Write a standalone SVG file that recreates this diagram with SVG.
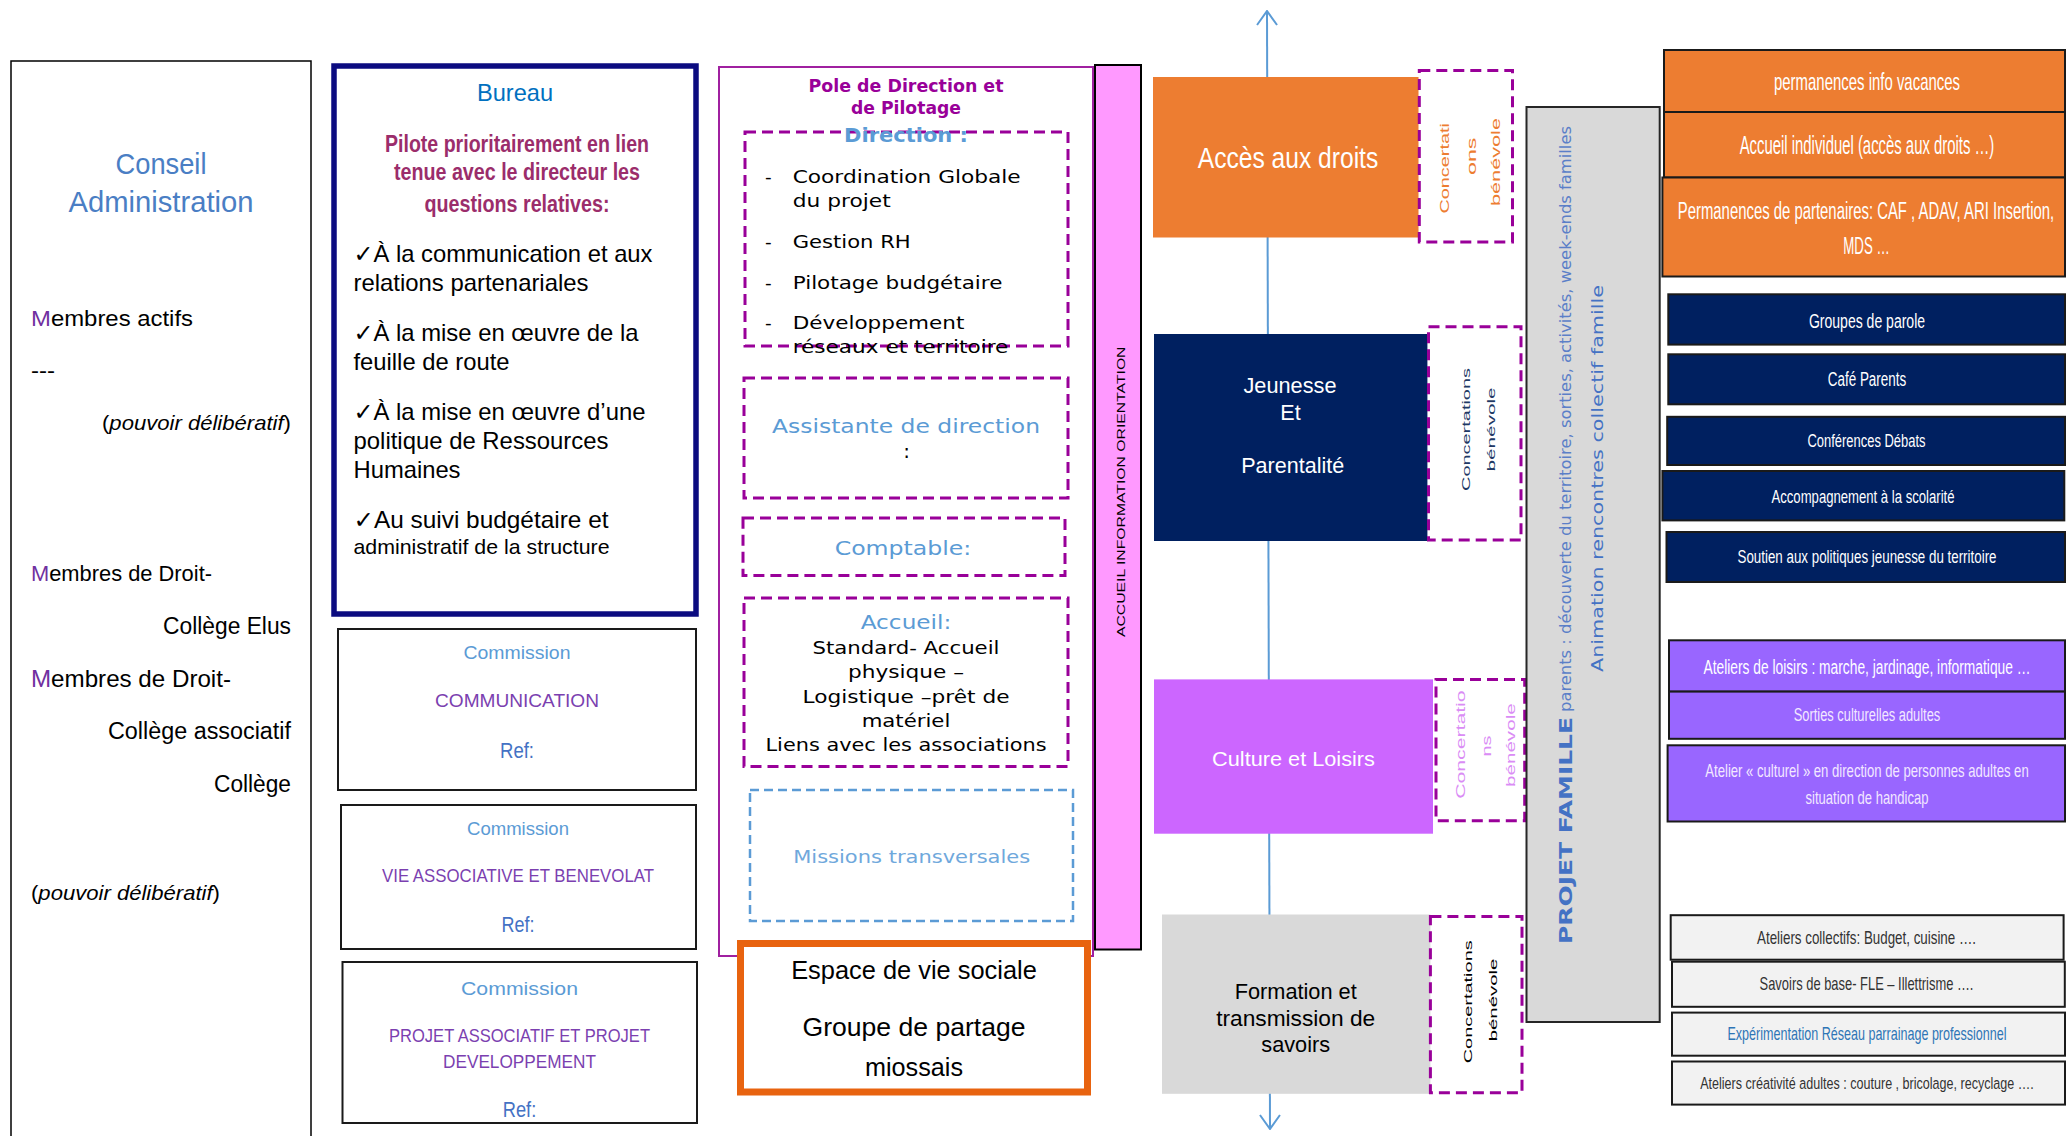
<svg xmlns="http://www.w3.org/2000/svg" width="2067" height="1136" viewBox="0 0 2067 1136">
<style>
text{font-family:"Liberation Sans",Arial,"DejaVu Sans",sans-serif}
.dv{font-family:"DejaVu Sans",Verdana,sans-serif}
.c{text-anchor:middle}
.e{text-anchor:end}
.dash{fill:none;stroke:#990099;stroke-width:3;stroke-dasharray:11 6}
.box{stroke:#1a1a1a;stroke-width:2}
.blue{fill:#5B9BD5}
.com{fill:#5B9BD5;font-size:19px}
.cap{fill:#7B3FB0;font-size:19px}
.ref{fill:#4472C4;font-size:22px}
.pil{fill:#9B2D6B;font-size:23px;font-weight:bold}
.bul{fill:#000;font-size:24px}
.lt{fill:#000;font-size:22px}
.rl{fill:#ffffff}
.pl{fill:#F3E8FF}
.gr{fill:#333333}
</style>
<defs>
<marker id="chev" viewBox="0 0 16 22" refX="15" refY="11" markerWidth="16" markerHeight="22" markerUnits="userSpaceOnUse" orient="auto-start-reverse">
<path d="M1,1 L15,11 L1,21" fill="none" stroke="#5B9BD5" stroke-width="2"/>
</marker>
</defs>
<rect x="0" y="0" width="2067" height="1136" fill="#ffffff"/>

<g id="connectors">
<line x1="1267" y1="11" x2="1270" y2="1129" stroke="#5B9BD5" stroke-width="2" marker-start="url(#chev)" marker-end="url(#chev)"/>
</g>

<g id="conseil">
<rect x="11" y="61" width="300" height="1090" fill="#ffffff" stroke="#000" stroke-width="1.5"/>
<text class="c" x="161" y="174" font-size="30" fill="#4A7EC4" textLength="91" lengthAdjust="spacingAndGlyphs">Conseil</text>
<text class="c" x="161" y="212" font-size="30" fill="#4A7EC4" textLength="185" lengthAdjust="spacingAndGlyphs">Administration</text>
<text class="lt" x="31" y="326" textLength="162" lengthAdjust="spacingAndGlyphs"><tspan fill="#7030A0">M</tspan>embres actifs</text>
<text class="lt" x="31" y="378" textLength="24" lengthAdjust="spacingAndGlyphs">---</text>
<text class="e" x="291" y="430" font-size="21" textLength="189" lengthAdjust="spacingAndGlyphs">(<tspan font-style="italic">pouvoir délibératif</tspan>)</text>
<text class="lt" x="31" y="581" textLength="181" lengthAdjust="spacingAndGlyphs"><tspan fill="#7030A0">M</tspan>embres de Droit-</text>
<text class="e" x="291" y="633.5" font-size="23" textLength="128" lengthAdjust="spacingAndGlyphs">Collège Elus</text>
<text x="31" y="687" font-size="24" textLength="200" lengthAdjust="spacingAndGlyphs"><tspan fill="#7030A0">M</tspan>embres de Droit-</text>
<text class="e" x="291" y="739" font-size="23" textLength="183" lengthAdjust="spacingAndGlyphs">Collège associatif</text>
<text class="e" x="291" y="792" font-size="23" textLength="77" lengthAdjust="spacingAndGlyphs">Collège</text>
<text x="31" y="900" font-size="21" textLength="189" lengthAdjust="spacingAndGlyphs">(<tspan font-style="italic">pouvoir délibératif</tspan>)</text>
</g>

<g id="bureau">
<rect x="334" y="66" width="362" height="548" fill="#ffffff" stroke="#0B0B80" stroke-width="5.5"/>
<text class="c" x="515" y="101" font-size="24" fill="#0070C0" textLength="76" lengthAdjust="spacingAndGlyphs">Bureau</text>
<text class="c pil" x="517" y="152" textLength="264" lengthAdjust="spacingAndGlyphs">Pilote prioritairement en lien</text>
<text class="c pil" x="517" y="180" textLength="246" lengthAdjust="spacingAndGlyphs">tenue avec le directeur les</text>
<text class="c pil" x="517" y="212" textLength="185" lengthAdjust="spacingAndGlyphs">questions relatives:</text>
<text class="bul" x="353.5" y="262" textLength="299" lengthAdjust="spacingAndGlyphs">✓À la communication et aux</text>
<text class="bul" x="353.5" y="291" textLength="235" lengthAdjust="spacingAndGlyphs">relations partenariales</text>
<text class="bul" x="353.5" y="341" textLength="285" lengthAdjust="spacingAndGlyphs">✓À la mise en œuvre de la</text>
<text class="bul" x="353.5" y="370" textLength="156" lengthAdjust="spacingAndGlyphs">feuille de route</text>
<text class="bul" x="353.5" y="420" textLength="292" lengthAdjust="spacingAndGlyphs">✓À la mise en œuvre d’une</text>
<text class="bul" x="353.5" y="449" textLength="255" lengthAdjust="spacingAndGlyphs">politique de Ressources</text>
<text class="bul" x="353.5" y="478" textLength="107" lengthAdjust="spacingAndGlyphs">Humaines</text>
<text class="bul" x="353.5" y="528" textLength="255" lengthAdjust="spacingAndGlyphs">✓Au suivi budgétaire  et</text>
<text x="353.5" y="554" font-size="21" textLength="256" lengthAdjust="spacingAndGlyphs">administratif de la structure</text>
</g>

<g id="commission-communication">
<rect class="box" x="338" y="629" width="358" height="161" fill="#ffffff"/>
<text class="c com" x="517" y="658.5" textLength="107" lengthAdjust="spacingAndGlyphs">Commission</text>
<text class="c cap" x="517" y="707" textLength="164" lengthAdjust="spacingAndGlyphs">COMMUNICATION</text>
<text class="c ref" x="517" y="757.6" textLength="34" lengthAdjust="spacingAndGlyphs">Ref:</text>
</g>
<g id="commission-vie-associative">
<rect class="box" x="341" y="805" width="355" height="144" fill="#ffffff"/>
<text class="c com" x="518" y="835" textLength="102" lengthAdjust="spacingAndGlyphs">Commission</text>
<text class="c cap" x="518" y="882" textLength="272" lengthAdjust="spacingAndGlyphs">VIE ASSOCIATIVE ET BENEVOLAT</text>
<text class="c ref" x="518" y="932" textLength="33" lengthAdjust="spacingAndGlyphs">Ref:</text>
</g>
<g id="commission-projet">
<rect class="box" x="342.5" y="962" width="354.5" height="161" fill="#ffffff"/>
<text class="c com" x="519.5" y="995" font-size="20" textLength="117" lengthAdjust="spacingAndGlyphs">Commission</text>
<text class="c cap" x="519.5" y="1042" textLength="261" lengthAdjust="spacingAndGlyphs">PROJET ASSOCIATIF ET PROJET</text>
<text class="c cap" x="519.5" y="1068" textLength="153" lengthAdjust="spacingAndGlyphs">DEVELOPPEMENT</text>
<text class="c ref" x="519.5" y="1116.6" font-size="21" textLength="33.5" lengthAdjust="spacingAndGlyphs">Ref:</text>
</g>

<g id="pole-direction">
<rect x="719" y="67" width="374" height="889" fill="#ffffff" stroke="#A020A0" stroke-width="2"/>
<text class="dv c" x="906" y="92" font-size="17" font-weight="bold" fill="#990099" textLength="195" lengthAdjust="spacingAndGlyphs">Pole de Direction et</text>
<text class="dv c" x="906" y="114" font-size="17" font-weight="bold" fill="#990099" textLength="110" lengthAdjust="spacingAndGlyphs">de Pilotage</text>
</g>
<g id="direction">
<rect class="dash" x="745" y="132" width="323" height="214"/>
<text class="dv c blue" x="906" y="141.6" font-size="20" font-weight="bold" textLength="124" lengthAdjust="spacingAndGlyphs">Direction :</text>
<g class="dv" font-size="18.5" fill="#000">
<text class="dv" x="765" y="183">-</text>
<text class="dv" x="792.7" y="183" textLength="228" lengthAdjust="spacingAndGlyphs">Coordination Globale</text>
<text class="dv" x="792.7" y="207" textLength="98" lengthAdjust="spacingAndGlyphs">du projet</text>
<text class="dv" x="765" y="247.6">-</text>
<text class="dv" x="792.7" y="247.6" textLength="118" lengthAdjust="spacingAndGlyphs">Gestion RH</text>
<text class="dv" x="765" y="288.6">-</text>
<text class="dv" x="792.7" y="288.6" textLength="209.7" lengthAdjust="spacingAndGlyphs">Pilotage budgétaire</text>
<text class="dv" x="765" y="329">-</text>
<text class="dv" x="792.7" y="329" textLength="171.7" lengthAdjust="spacingAndGlyphs">Développement</text>
<text class="dv" x="792.7" y="353" textLength="215.7" lengthAdjust="spacingAndGlyphs">réseaux et territoire</text>
</g>
</g>
<g id="assistante">
<rect class="dash" x="744" y="378" width="324" height="120"/>
<text class="dv c blue" x="906" y="432.6" font-size="20" textLength="268" lengthAdjust="spacingAndGlyphs">Assistante de direction</text>
<text class="dv c" x="906.7" y="458" font-size="20">:</text>
</g>
<g id="comptable">
<rect class="dash" x="743" y="518" width="322" height="57.4"/>
<text class="dv c blue" x="903" y="554.8" font-size="20" textLength="136.7" lengthAdjust="spacingAndGlyphs">Comptable:</text>
</g>
<g id="accueil">
<rect class="dash" x="744" y="598" width="324" height="168.5"/>
<text class="dv c blue" x="906" y="629" font-size="20" textLength="90.7" lengthAdjust="spacingAndGlyphs">Accueil:</text>
<g font-size="18" fill="#000">
<text class="dv c" x="906" y="654.4" textLength="187" lengthAdjust="spacingAndGlyphs">Standard- Accueil</text>
<text class="dv c" x="906" y="678.3" textLength="116" lengthAdjust="spacingAndGlyphs">physique –</text>
<text class="dv c" x="906" y="702.5" textLength="207" lengthAdjust="spacingAndGlyphs">Logistique –prêt de</text>
<text class="dv c" x="906" y="727" textLength="88.7" lengthAdjust="spacingAndGlyphs">matériel</text>
<text class="dv c" x="906" y="751" textLength="281" lengthAdjust="spacingAndGlyphs">Liens avec les associations</text>
</g>
</g>
<g id="missions">
<rect x="750" y="790" width="323" height="131" fill="none" stroke="#5B9BD5" stroke-width="2.5" stroke-dasharray="9 5"/>
<text class="dv c" x="911.7" y="863" font-size="18" fill="#6FA8DC" textLength="237" lengthAdjust="spacingAndGlyphs">Missions transversales</text>
</g>
<g id="espace-vie-sociale">
<rect x="740.5" y="943.5" width="347" height="148.5" fill="#ffffff" stroke="#E8630F" stroke-width="7"/>
<text class="c" x="914" y="978.8" font-size="26" textLength="245.7" lengthAdjust="spacingAndGlyphs">Espace de vie sociale</text>
<text class="c" x="914" y="1035.8" font-size="26" textLength="223" lengthAdjust="spacingAndGlyphs">Groupe de partage</text>
<text class="c" x="914" y="1076" font-size="26" textLength="98" lengthAdjust="spacingAndGlyphs">miossais</text>
</g>

<g id="accueil-information">
<rect x="1095" y="65" width="46" height="884.5" fill="#FF99FF" stroke="#000" stroke-width="2"/>
<text transform="translate(1125,637) rotate(-90)" x="0" y="0" font-size="11.5" fill="#000" textLength="290.5" lengthAdjust="spacingAndGlyphs">ACCUEIL INFORMATION ORIENTATION</text>
</g>

<g id="acces-droits">
<rect x="1153" y="77" width="265.5" height="160.5" fill="#ED7D31"/>
<text class="c rl" x="1288" y="168" font-size="30" textLength="180.5" lengthAdjust="spacingAndGlyphs">Accès aux droits</text>
<rect class="dash" x="1419.3" y="70.4" width="93.2" height="171.6"/>
<g font-size="12" fill="#ED7D31">
<text transform="translate(1449,213.6) rotate(-90)" textLength="90.6" lengthAdjust="spacingAndGlyphs">Concertati</text>
<text transform="translate(1475.5,175) rotate(-90)" textLength="37.5" lengthAdjust="spacingAndGlyphs">ons</text>
<text transform="translate(1499.5,206) rotate(-90)" textLength="88" lengthAdjust="spacingAndGlyphs">bénévole</text>
</g>
</g>

<g id="jeunesse-parentalite">
<rect x="1154" y="334" width="273.4" height="207" fill="#002060"/>
<text class="c rl" x="1290" y="393" font-size="21.5" textLength="93" lengthAdjust="spacingAndGlyphs">Jeunesse</text>
<text class="c rl" x="1290.5" y="419.6" font-size="21.5">Et</text>
<text class="c rl" x="1292.7" y="473" font-size="21.5" textLength="103" lengthAdjust="spacingAndGlyphs">Parentalité</text>
<rect class="dash" x="1428.5" y="326.8" width="92.5" height="213.2"/>
<g font-size="11" fill="#203864">
<text transform="translate(1469.5,491) rotate(-90)" textLength="123" lengthAdjust="spacingAndGlyphs">Concertations</text>
<text transform="translate(1494.7,471.4) rotate(-90)" textLength="84" lengthAdjust="spacingAndGlyphs">bénévole</text>
</g>
</g>

<g id="culture-loisirs">
<rect x="1154" y="679.4" width="279" height="154.3" fill="#CC66FF"/>
<text class="c rl" x="1293.5" y="765.7" font-size="21" textLength="162.8" lengthAdjust="spacingAndGlyphs">Culture et Loisirs</text>
<rect class="dash" x="1436" y="679.4" width="88.7" height="141.4"/>
<g font-size="12" fill="#DA8CF5">
<text transform="translate(1464.5,798.8) rotate(-90)" textLength="108.4" lengthAdjust="spacingAndGlyphs">Concertatio</text>
<text transform="translate(1491,756.5) rotate(-90)" textLength="21" lengthAdjust="spacingAndGlyphs">ns</text>
<text transform="translate(1515,787) rotate(-90)" textLength="83.7" lengthAdjust="spacingAndGlyphs">bénévole</text>
</g>
</g>

<g id="formation">
<rect x="1162" y="914.5" width="268.4" height="179.3" fill="#D9D9D9"/>
<text class="c" x="1295.7" y="999" font-size="22" textLength="122" lengthAdjust="spacingAndGlyphs">Formation et</text>
<text class="c" x="1295.7" y="1025.8" font-size="22" textLength="159" lengthAdjust="spacingAndGlyphs">transmission  de</text>
<text class="c" x="1295.7" y="1051.5" font-size="22" textLength="68.8" lengthAdjust="spacingAndGlyphs">savoirs</text>
<rect class="dash" x="1430.4" y="916.4" width="91.6" height="176.3"/>
<g font-size="11" fill="#000">
<text transform="translate(1471.5,1063.3) rotate(-90)" textLength="123" lengthAdjust="spacingAndGlyphs">Concertations</text>
<text transform="translate(1496.5,1041.3) rotate(-90)" textLength="82.7" lengthAdjust="spacingAndGlyphs">bénévole</text>
</g>
</g>

<g id="projet-famille">
<rect x="1526.5" y="107" width="133.2" height="915" fill="#D9D9D9" stroke="#262626" stroke-width="2"/>
<text class="dv" transform="translate(1571.5,944) rotate(-90)" font-size="18" font-weight="bold" fill="#4472C4" textLength="227" lengthAdjust="spacingAndGlyphs">PROJET FAMILLE</text>
<text class="dv" transform="translate(1570.8,712) rotate(-90)" font-size="16" fill="#5B7FC8" textLength="586" lengthAdjust="spacingAndGlyphs">parents : découverte du territoire, sorties, activités, week-ends familles</text>
<text class="dv" transform="translate(1603,672) rotate(-90)" font-size="16" fill="#4472C4" textLength="387" lengthAdjust="spacingAndGlyphs">Animation rencontres collectif famille</text>
</g>

<g id="permanences-info-vacances">
<rect class="box" x="1664" y="50" width="401" height="62" fill="#ED7D31"/>
<text class="c rl" transform="translate(1867,90) scale(0.6225,1)" font-size="24" textLength="298.8" lengthAdjust="spacingAndGlyphs">permanences info vacances</text>
</g>
<g id="accueil-individuel">
<rect class="box" x="1664" y="112" width="401" height="65.5" fill="#ED7D31"/>
<text class="c rl" transform="translate(1867,154.3) scale(0.595,1)" font-size="25" textLength="428" lengthAdjust="spacingAndGlyphs">Accueil individuel (accès aux droits …)</text>
</g>
<g id="permanences-partenaires">
<rect class="box" x="1662.4" y="177.5" width="402.6" height="99" fill="#ED7D31"/>
<text class="c rl" transform="translate(1866,218.6) scale(0.6135,1)" font-size="24" textLength="613.7" lengthAdjust="spacingAndGlyphs">Permanences de partenaires: CAF , ADAV, ARI Insertion,</text>
<text class="c rl" transform="translate(1866.5,254.3) scale(0.552,1)" font-size="24" textLength="84" lengthAdjust="spacingAndGlyphs">MDS …</text>
</g>
<g id="groupes-parole">
<rect class="box" x="1668.3" y="294.3" width="396.7" height="50.3" fill="#002060"/>
<text class="c rl" transform="translate(1867,327.5) scale(0.668,1)" font-size="21" textLength="173.9" lengthAdjust="spacingAndGlyphs">Groupes de parole</text>
</g>
<g id="cafe-parents">
<rect class="box" x="1668.3" y="354.3" width="396.7" height="50" fill="#002060"/>
<text class="c rl" transform="translate(1867,386.4) scale(0.6726,1)" font-size="20" textLength="116.7" lengthAdjust="spacingAndGlyphs">Café Parents</text>
</g>
<g id="conferences-debats">
<rect class="box" x="1667.2" y="416.8" width="397.8" height="48.2" fill="#002060"/>
<text class="c rl" transform="translate(1866.5,447) scale(0.6998,1)" font-size="18.5" textLength="168.6" lengthAdjust="spacingAndGlyphs">Conférences Débats</text>
</g>
<g id="accompagnement-scolarite">
<rect class="box" x="1662.4" y="471" width="401.9" height="49.4" fill="#002060"/>
<text class="c rl" transform="translate(1863,502.5) scale(0.709,1)" font-size="18.5" textLength="258.1" lengthAdjust="spacingAndGlyphs">Accompagnement à la scolarité</text>
</g>
<g id="soutien-jeunesse">
<rect class="box" x="1666.5" y="532" width="398.5" height="50" fill="#002060"/>
<text class="c rl" transform="translate(1867,563) scale(0.7216,1)" font-size="18.5" textLength="358.9" lengthAdjust="spacingAndGlyphs">Soutien aux politiques jeunesse du territoire</text>
</g>
<g id="ateliers-loisirs">
<rect class="box" x="1669" y="640.3" width="396" height="51.3" fill="#9966FF"/>
<text class="c rl" transform="translate(1867,673.5) scale(0.689,1)" font-size="20" textLength="474.6" lengthAdjust="spacingAndGlyphs">Ateliers de loisirs : marche, jardinage, informatique …</text>
</g>
<g id="sorties-culturelles">
<rect class="box" x="1669" y="691.6" width="396" height="47.2" fill="#9966FF"/>
<text class="c pl" transform="translate(1867,721.4) scale(0.677,1)" font-size="19" textLength="216.4" lengthAdjust="spacingAndGlyphs">Sorties culturelles adultes</text>
</g>
<g id="atelier-culturel">
<rect class="box" x="1667.6" y="745.3" width="397.4" height="76.2" fill="#9966FF"/>
<text class="c pl" transform="translate(1867,777) scale(0.728,1)" font-size="18" textLength="444.2" lengthAdjust="spacingAndGlyphs">Atelier « culturel » en direction de personnes adultes en</text>
<text class="c pl" transform="translate(1867,804.4) scale(0.722,1)" font-size="18" textLength="170.1" lengthAdjust="spacingAndGlyphs">situation de handicap</text>
</g>
<g id="ateliers-collectifs">
<rect class="box" x="1670.7" y="915.2" width="392.9" height="44.5" fill="#F2F2F2"/>
<text class="c gr" transform="translate(1866.5,943.6) scale(0.763,1)" font-size="17.5" textLength="287" lengthAdjust="spacingAndGlyphs">Ateliers collectifs: Budget, cuisine ….</text>
</g>
<g id="savoirs-base">
<rect class="box" x="1672" y="961.7" width="392.8" height="45.1" fill="#F2F2F2"/>
<text class="c gr" transform="translate(1866.5,989.7) scale(0.738,1)" font-size="17.5" textLength="289.8" lengthAdjust="spacingAndGlyphs">Savoirs de base- FLE – Illettrisme ….</text>
</g>
<g id="experimentation">
<rect class="box" x="1672" y="1012.6" width="393" height="43.1" fill="#F2F2F2"/>
<text class="c" transform="translate(1867,1040.3) scale(0.6975,1)" font-size="18" fill="#2E75B6" textLength="400.1" lengthAdjust="spacingAndGlyphs">Expérimentation Réseau parrainage professionnel</text>
</g>
<g id="ateliers-creativite">
<rect class="box" x="1672" y="1061.5" width="393" height="43.1" fill="#F2F2F2"/>
<text class="c gr" transform="translate(1867,1088.9) scale(0.7386,1)" font-size="17" textLength="451.7" lengthAdjust="spacingAndGlyphs">Ateliers créativité adultes : couture , bricolage, recyclage ….</text>
</g>
</svg>
